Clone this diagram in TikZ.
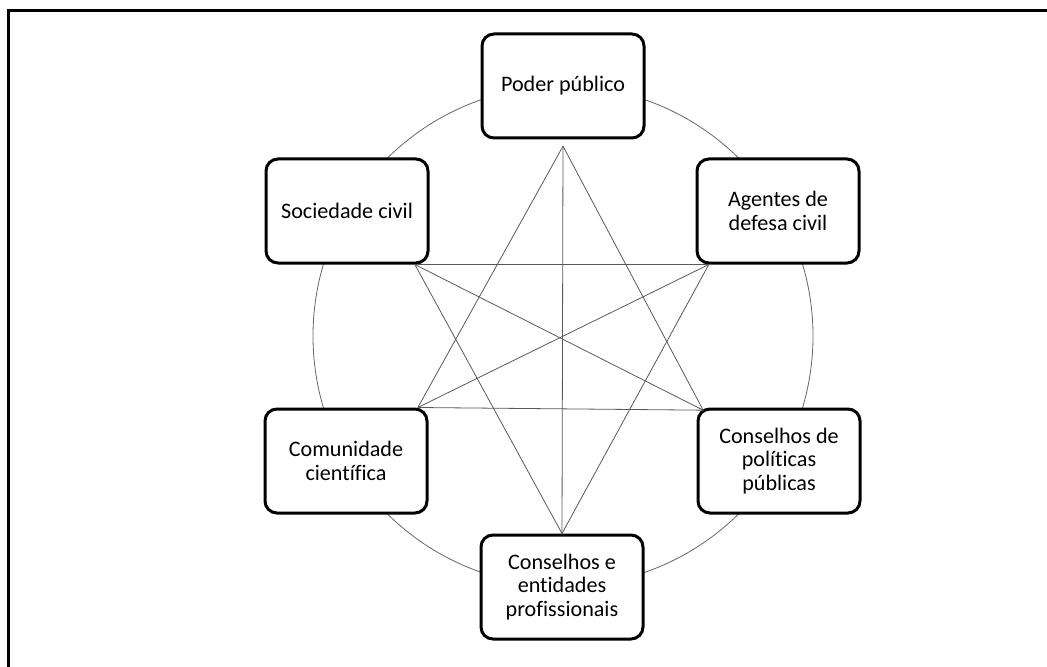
\documentclass[tikz,border=0pt]{standalone}
\usepackage{fontspec}
\setmainfont{Carlito}[Ligatures=NoCommon]
\usetikzlibrary{positioning,calc}

\begin{document}
\begin{tikzpicture}[
  x=0.75pt, y=-0.75pt,
  actor/.style={draw, fill=white, line width=2.25pt, rounded corners=9pt, align=center,
    minimum width=121.5pt, minimum height=78pt, inner sep=2pt,
    font=\fontsize{16.6pt}{17.6pt}\selectfont},
  link/.style={draw=black!65, line width=0.6pt},
  ring/.style={draw=black!60, line width=0.6pt}
]
\useasboundingbox (0,0) rectangle (1047,667);
% frame
\draw[line width=2.25pt] (1050,11) -- (8,11) -- (8,670);

% ring behind the boxes
\coordinate (mid) at (563,336);
\draw[ring] (mid) circle[radius=187.5pt];

\node[actor] (poder) at (563,86) {Poder público};
\node[actor] (soc) at (347,211) {Sociedade civil};
\node[actor] (agentes) at (778,211) {Agentes de\\defesa civil};
\node[actor] (com) at (346,461) {Comunidade\\científica};
\node[actor] (cpp) at (779,461) {Conselhos de\\políticas\\públicas};
\node[actor] (prof) at (562,587) {Conselhos e\\entidades\\profissionais};

% end points of the links
\coordinate (p1) at ([yshift=-5pt]poder.south);
\coordinate (s1) at ([xshift=-11pt]soc.south east);
\coordinate (a1) at ([xshift=10pt]agentes.south west);
\coordinate (c1) at ([xshift=-8pt]com.north east);
\coordinate (k1) at ([xshift=5pt,yshift=-2pt]cpp.north west);
\coordinate (b1) at (prof.north);

\draw[link] (p1) -- (b1);
\draw[link] (p1) -- (c1);
\draw[link] (p1) -- (k1);
\draw[link] (s1) -- (a1);
\draw[link] (s1) -- (k1);
\draw[link] (s1) -- (b1);
\draw[link] (a1) -- (c1);
\draw[link] (a1) -- (b1);
\draw[link] (c1) -- (k1);
\end{tikzpicture}
\end{document}
